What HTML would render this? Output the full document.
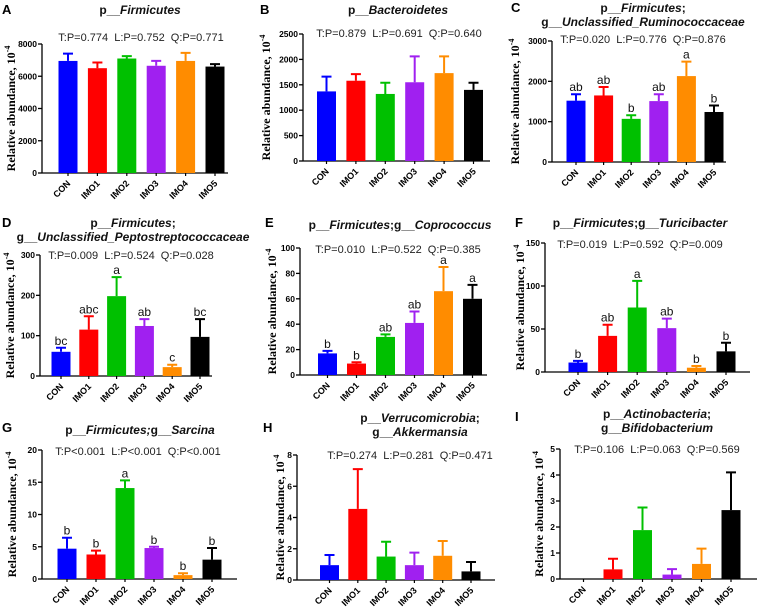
<!DOCTYPE html>
<html><head><meta charset="utf-8"><style>
html,body{margin:0;padding:0;background:#fff;}
svg{display:block;font-family:"Liberation Sans",Arial,sans-serif;}
.pre{white-space:pre;}
</style></head><body>
<svg id="fig" width="758" height="611" viewBox="0 0 758 611"></svg>
<script>
const categories = ["CON","IMO1","IMO2","IMO3","IMO4","IMO5"];
const colors = ["#0000ff","#ff0000","#00c000","#a020f0","#ff8c00","#000000"];

const valuesA = [6950,6500,7100,6650,6950,6600];
const errTopA = [7400,6850,7250,6950,7450,6750];
const ticksA = [0,2000,4000,6000,8000];
const lettersA = ["","","","","",""];

const valuesB = [1370,1580,1320,1550,1730,1400];
const errTopB = [1660,1710,1540,2060,2060,1540];
const ticksB = [0,500,1000,1500,2000,2500];
const lettersB = ["","","","","",""];

const valuesC = [1520,1650,1070,1510,2130,1240];
const errTopC = [1680,1860,1160,1680,2490,1400];
const ticksC = [0,1000,2000,3000];
const lettersC = ["ab","ab","b","ab","a","b"];

const valuesD = [60,115,198,124,22,97];
const errTopD = [70,148,245,141,28,141];
const ticksD = [0,100,200,300];
const lettersD = ["bc","abc","a","ab","c","bc"];

const valuesE = [17,9,30,41,66,60];
const errTopE = [19,10,32,50,85,71];
const ticksE = [0,20,40,60,80,100];
const lettersE = ["b","b","ab","ab","a","a"];

const valuesF = [11,42,75,51,5,24];
const errTopF = [13,55,106,62,7,34];
const ticksF = [0,50,100,150];
const lettersF = ["b","ab","a","ab","b","b"];

const valuesG = [4.7,3.8,14.1,4.8,0.6,3.0];
const errTopG = [6.4,4.4,15.3,5.0,0.9,4.8];
const ticksG = [0,5,10,15,20];
const lettersG = ["b","b","a","b","b","b"];

const valuesH = [0.95,4.55,1.5,0.95,1.55,0.55];
const errTopH = [1.6,7.1,2.45,1.75,2.5,1.15];
const ticksH = [0,2,4,6,8];
const lettersH = ["","","","","",""];

const valuesI = [0,0.37,1.88,0.17,0.58,2.65];
const errTopI = [0,0.78,2.75,0.38,1.17,4.1];
const ticksI = [0,1,2,3,4,5];
const lettersI = ["","","","","",""];

const panels = [
 {id:"a",letter:"A",lx:2,ly:14,vals:valuesA,errs:errTopA,ticks:ticksA,lets:lettersA,ax:42,y0:173,yT:44,c0:68,sp:29.4,right:228,ytx:15,
  title:[["p__",""],["Firmicutes","i"]],title2:null,tx:140,ty:14,stats:"T:P=0.774  L:P=0.752  Q:P=0.771",sx:141,sy:41},
 {id:"b",letter:"B",lx:260,ly:14,vals:valuesB,errs:errTopB,ticks:ticksB,lets:lettersB,ax:303,y0:161,yT:34,c0:326.5,sp:29.4,right:490,ytx:270,
  title:[["p__",""],["Bacteroidetes","i"]],title2:null,tx:398,ty:14,stats:"T:P=0.879  L:P=0.691  Q:P=0.640",sx:399,sy:37},
 {id:"c",letter:"C",lx:511,ly:12,vals:valuesC,errs:errTopC,ticks:ticksC,lets:lettersC,ax:552,y0:162,yT:41,c0:576,sp:27.6,right:726,ytx:519,
  title:[["p__",""],["Firmicutes","i"],[";",""]],title2:[["g__",""],["Unclassified_Ruminococcaceae","i"]],tx:643,ty:12,stats:"T:P=0.020  L:P=0.776  Q:P=0.876",sx:643,sy:43},
 {id:"d",letter:"D",lx:2,ly:227,vals:valuesD,errs:errTopD,ticks:ticksD,lets:lettersD,ax:40,y0:376,yT:255,c0:61,sp:27.8,right:212,ytx:14,
  title:[["p__",""],["Firmicutes","i"],[";",""]],title2:[["g__",""],["Unclassified_Peptostreptococcaceae","i"]],tx:133,ty:227,stats:"T:P=0.009  L:P=0.524  Q:P=0.028",sx:131,sy:259},
 {id:"e",letter:"E",lx:265,ly:227,vals:valuesE,errs:errTopE,ticks:ticksE,lets:lettersE,ax:300,y0:375,yT:248,c0:327.5,sp:29,right:487,ytx:276,
  title:[["p__",""],["Firmicutes","i"],[";g__",""],["Coprococcus","i"]],title2:null,tx:400,ty:229,stats:"T:P=0.010  L:P=0.522  Q:P=0.385",sx:398,sy:253},
 {id:"f",letter:"F",lx:515,ly:227,vals:valuesF,errs:errTopF,ticks:ticksF,lets:lettersF,ax:545,y0:372,yT:243,c0:578,sp:29.6,right:750,ytx:524,
  title:[["p__",""],["Firmicutes","i"],[";g__",""],["Turicibacter","i"]],title2:null,tx:640,ty:227,stats:"T:P=0.019  L:P=0.592  Q:P=0.009",sx:640,sy:248},
 {id:"g",letter:"G",lx:2,ly:432,vals:valuesG,errs:errTopG,ticks:ticksG,lets:lettersG,ax:42,y0:579,yT:450,c0:67,sp:29,right:237,ytx:16,
  title:[["p__",""],["Firmicutes;","i"],["g__",""],["Sarcina","i"]],title2:null,tx:140,ty:434,stats:"T:P<0.001  L:P<0.001  Q:P<0.001",sx:138,sy:455},
 {id:"h",letter:"H",lx:263,ly:432,vals:valuesH,errs:errTopH,ticks:ticksH,lets:lettersH,ax:297,y0:580,yT:455,c0:329.5,sp:28.3,right:495,ytx:284,
  title:[["p__",""],["Verrucomicrobia","i"],[";",""]],title2:[["g__",""],["Akkermansia","i"]],tx:420,ty:422,stats:"T:P=0.274  L:P=0.281  Q:P=0.471",sx:410,sy:459},
 {id:"i",letter:"I",lx:515,ly:421,vals:valuesI,errs:errTopI,ticks:ticksI,lets:lettersI,ax:560,y0:579,yT:449,c0:583.5,sp:29.5,right:757,ytx:543,
  title:[["p__",""],["Actinobacteria","i"],[";",""]],title2:[["g__",""],["Bifidobacterium","i"]],tx:657,ty:418,stats:"T:P=0.106  L:P=0.063  Q:P=0.569",sx:657,sy:453}
];

const NS="http://www.w3.org/2000/svg";
const svg=document.getElementById("fig");
function mk(tag,attrs,parent){const e=document.createElementNS(NS,tag);for(const k in attrs)e.setAttribute(k,attrs[k]);(parent||svg).appendChild(e);return e;}
function titleLine(g,parts,x,y){
  const t=mk("text",{x:x,y:y,"text-anchor":"middle","font-size":"12","font-weight":"bold",fill:"#111"},g);
  
  
  parts.forEach(p=>{const s=mk("tspan",{},t);if(p[1]==="i")s.setAttribute("font-style","italic");s.textContent=p[0];});
}

panels.forEach(p=>{
  const g=mk("g",{});
  
  
  const maxT=p.ticks[p.ticks.length-1];
  const yS=v=>p.y0-(v/maxT)*(p.y0-p.yT);
  const xS=i=>p.c0+i*p.sp;

  const L=mk("text",{x:p.lx,y:p.ly,"font-size":"13","font-weight":"bold",fill:"#000"},g);
  
  
  L.textContent=p.letter;

  titleLine(g,p.title,p.tx,p.ty);
  if(p.title2) titleLine(g,p.title2,p.tx,p.ty+14);

  const st=mk("text",{x:p.sx,y:p.sy,"text-anchor":"middle","font-size":"11",fill:"#222","class":"pre"},g);
  
  
  st.textContent=p.stats;

  const ya=mk("line",{x1:p.ax,y1:p.yT,x2:p.ax,y2:p.y0,stroke:"#000","stroke-width":1.3},g);
  
  
  const xa=mk("line",{x1:p.ax,y1:p.y0,x2:p.right,y2:p.y0,stroke:"#000","stroke-width":1.3},g);
  
  

  p.ticks.forEach(t=>{
    const y=yS(t);
    mk("line",{x1:p.ax-4,y1:y,x2:p.ax,y2:y,stroke:"#000","stroke-width":1.3},g);
    const tl=mk("text",{x:p.ax-5,y:y+3,"text-anchor":"end","font-size":"8.5","font-weight":"bold",fill:"#000"},g);
    
    
    tl.textContent=t;
  });

  const ym=(p.y0+p.yT)/2;
  const yt=mk("text",{x:p.ytx,y:ym,"text-anchor":"middle","font-size":"12","font-weight":"bold","font-family":"'Liberation Serif',serif",fill:"#000",transform:`rotate(-90 ${p.ytx} ${ym})`},g);
  
  
  yt.appendChild(document.createTextNode("Relative abundance, 10"));
  const sup=mk("tspan",{dy:"-5","font-size":"8"},yt);sup.textContent="-4";

  const bw=19;
  categories.forEach((c,i)=>{
    const cx=xS(i),v=p.vals[i],e=p.errs[i],col=colors[i];
    if(v>0){
      const r=mk("rect",{x:cx-bw/2,y:yS(v),width:bw,height:p.y0-yS(v),fill:col},g);
      
      
    }
    if(e>v){
      const el=mk("path",{d:`M${cx} ${yS(v)}V${yS(e)}M${cx-5} ${yS(e)}H${cx+5}`,stroke:col,"stroke-width":2,fill:"none"},g);
      
      
    }
    if(p.lets[i]){
      const lt=mk("text",{x:cx,y:yS(e)-3,"text-anchor":"middle","font-size":"12",fill:"#111"},g);
      
      
      lt.textContent=p.lets[i];
    }
    mk("line",{x1:cx,y1:p.y0,x2:cx,y2:p.y0+3,stroke:"#000","stroke-width":1.2},g);
    const xl=mk("text",{x:cx+3,y:p.y0+11,"text-anchor":"end","font-size":"9","font-weight":"bold",fill:"#000",transform:`rotate(-45 ${cx+3} ${p.y0+11})`},g);
    
    
    xl.textContent=c;
  });
});
</script>
</body></html>
